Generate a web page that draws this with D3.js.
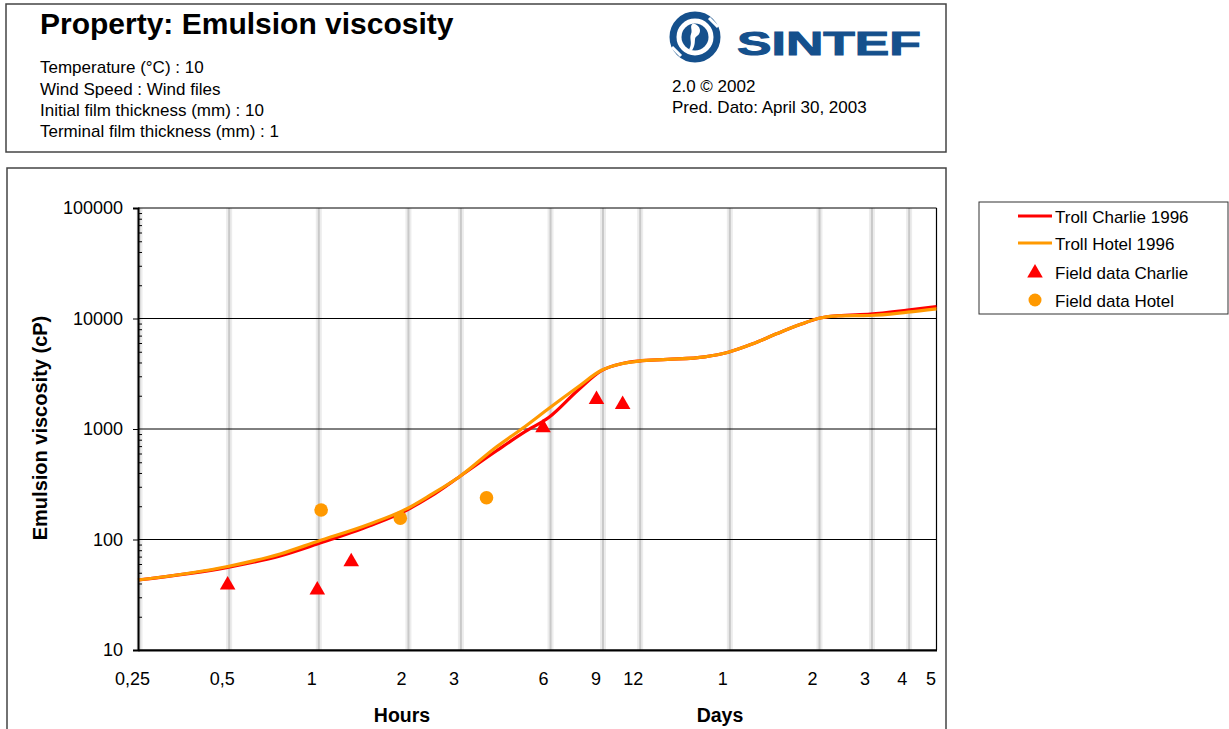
<!DOCTYPE html>
<meta charset="utf-8">
<script src="https://d3js.org/d3.v7.min.js"></script>
<style>
  body { margin: 0; background: #fff; }
  svg text { font-family: "Liberation Sans", Arial, sans-serif; fill: #000; }
</style>
<body>
<div id="chart"></div>
<script>
// model curves (time in hours, viscosity in cP)
var hours   = [0.25, 0.5, 0.75, 1, 1.5, 2, 2.4, 3, 4, 5, 6, 7.5, 9, 10.5, 12, 15, 20, 24, 29, 35, 42, 48, 56, 72, 96, 120];
var charlie = [43, 56, 71, 91, 133, 185, 245, 370, 635, 950, 1276, 2240, 3380, 3900, 4120, 4260, 4500, 4950, 5900, 7300, 8850, 10000, 10600, 10950, 11900, 12800];
var hotel   = [43, 57, 74, 96, 138, 190, 253, 370, 690, 1060, 1540, 2400, 3400, 3900, 4120, 4260, 4500, 4950, 5900, 7300, 8850, 10000, 10550, 10650, 11400, 12200];

// field observations
var charlieFieldHours = [0.5, 1.0, 1.3, 5.73, 8.66, 10.6];
var charlieFieldVals  = [40, 36, 65, 1060, 1910, 1720];
var hotelFieldHours   = [1.03, 1.9, 3.7];
var hotelFieldVals    = [185, 156, 239];

// axis ticks
var xTickVals   = [0.25, 0.5, 1, 2, 3, 6, 9, 12, 24, 48, 72, 96, 120];
var xTickLabels = ["0,25", "0,5", "1", "2", "3", "6", "9", "12", "1", "2", "3", "4", "5"];
var xGridVals   = [0.25, 0.5, 1, 2, 3, 6, 9, 12, 24, 48, 72, 96];
var yTickVals   = [10, 100, 1000, 10000, 100000];

var headerLines = ["Temperature (°C) : 10", "Wind Speed : Wind files",
                   "Initial film thickness (mm) : 10", "Terminal film thickness (mm) : 1"];
var seriesNames = ["Troll Charlie 1996", "Troll Hotel 1996", "Field data Charlie", "Field data Hotel"];

var RED = "#ff0000", ORANGE = "#ff9900", BLUE = "#15508c";

var svg = d3.select("#chart").append("svg")
    .attr("width", 1229).attr("height", 729);

// ---- header box ----
svg.append("rect").attr("x", 6).attr("y", 4).attr("width", 940).attr("height", 148)
    .attr("fill", "none").attr("stroke", "#444").attr("stroke-width", 1.5);
svg.append("text").attr("x", 40).attr("y", 34)
    .style("font-size", "30px").style("font-weight", "bold")
    .text("Property: Emulsion viscosity");
svg.selectAll(".hdr").data(headerLines).enter().append("text")
    .attr("x", 40).attr("y", function(d, i) { return [73, 95, 116, 137][i]; })
    .style("font-size", "17px").text(function(d) { return d; });

// SINTEF logo
var logo = svg.append("g").attr("transform", "translate(695,37)");
logo.append("circle").attr("r", 22).attr("fill", "none").attr("stroke", BLUE).attr("stroke-width", 7);
logo.append("circle").attr("r", 13.5).attr("fill", BLUE);
logo.append("path")
    .attr("d", "M-2,-13.5 C6,-12 7,-4 2,-1 C-2,1 2,6 -3,13.5 L-6,12.5 C-2,6 -6,2 -4,-3 C-2,-7 -6,-11 -2,-13.5 Z")
    .attr("fill", "#fff");
logo.append("path").attr("d", "M14,-19 L23,-10").attr("stroke", "#fff").attr("stroke-width", 3);
logo.append("path").attr("d", "M-14,19 L-23,10").attr("stroke", "#fff").attr("stroke-width", 3);
svg.append("text").attr("x", 737).attr("y", 55)
    .attr("textLength", 184).attr("lengthAdjust", "spacingAndGlyphs")
    .style("font-size", "34px").style("font-weight", "bold").style("fill", BLUE)
    .style("stroke", BLUE).style("stroke-width", 1)
    .text("SINTEF");
svg.append("text").attr("x", 672).attr("y", 92).style("font-size", "17px").text("2.0 © 2002");
svg.append("text").attr("x", 672).attr("y", 113).style("font-size", "17px").text("Pred. Dato: April 30, 2003");

// ---- chart box ----
svg.append("rect").attr("x", 7).attr("y", 168).attr("width", 939).attr("height", 580)
    .attr("fill", "none").attr("stroke", "#444").attr("stroke-width", 1.5);

var x = d3.scaleLog().domain([0.25, 120]).range([138, 936.5]);
var y = d3.scaleLog().domain([10, 100000]).range([650, 208]);

// vertical grid
var grid = svg.append("g");
grid.selectAll(".vg1").data(xGridVals).enter().append("line")
    .attr("x1", function(d) { return x(d) + 1.5; }).attr("x2", function(d) { return x(d) + 1.5; })
    .attr("y1", 208).attr("y2", 650).attr("stroke", "#ececec").attr("stroke-width", 6);
grid.selectAll(".vg2").data(xGridVals).enter().append("line")
    .attr("x1", function(d) { return x(d) + 1.5; }).attr("x2", function(d) { return x(d) + 1.5; })
    .attr("y1", 208).attr("y2", 650).attr("stroke", "#c9c9c9").attr("stroke-width", 2);

// horizontal grid
grid.selectAll(".hg").data(yTickVals).enter().append("line")
    .attr("x1", 138).attr("x2", 936.5)
    .attr("y1", function(d) { return y(d); }).attr("y2", function(d) { return y(d); })
    .attr("stroke", "#000").attr("stroke-width", 1);

// right border
svg.append("line").attr("x1", 936.5).attr("x2", 936.5).attr("y1", 208).attr("y2", 650)
    .attr("stroke", "#000").attr("stroke-width", 1.2);

// lines
var line = d3.line().curve(d3.curveMonotoneX)
    .x(function(d) { return x(d[0]); }).y(function(d) { return y(d[1]); });
svg.append("path").datum(d3.zip(hours, charlie)).attr("d", line)
    .attr("fill", "none").attr("stroke", RED).attr("stroke-width", 3.2);
svg.append("path").datum(d3.zip(hours, hotel)).attr("d", line)
    .attr("fill", "none").attr("stroke", ORANGE).attr("stroke-width", 3.2);

// markers
var tri = d3.symbol().type(d3.symbolTriangle).size(105);
svg.selectAll(".tri").data(d3.zip(charlieFieldHours, charlieFieldVals)).enter().append("path")
    .attr("d", tri)
    .attr("transform", function(d) { return "translate(" + x(d[0]) + "," + (y(d[1]) + 1.5) + ")"; })
    .attr("fill", RED);
svg.selectAll(".dot").data(d3.zip(hotelFieldHours, hotelFieldVals)).enter().append("circle")
    .attr("cx", function(d) { return x(d[0]); }).attr("cy", function(d) { return y(d[1]); })
    .attr("r", 6.8).attr("fill", ORANGE);

// y axis
var yAxis = svg.append("g").attr("transform", "translate(138,0)")
    .call(d3.axisLeft(y).tickValues(yTickVals).tickFormat(d3.format("d")).tickSize(5).tickPadding(10));
var minor = [];
yTickVals.slice(0, -1).forEach(function(v) { for (var k = 2; k < 10; k++) minor.push(v * k); });
svg.append("g").attr("transform", "translate(138,0)")
    .call(d3.axisRight(y).tickValues(minor).tickFormat("").tickSize(4))
    .select(".domain").remove();
yAxis.select(".domain").attr("stroke-width", 2);
yAxis.selectAll("text").style("font-size", "18px").attr("fill", "#000");

// x axis
var xAxis = svg.append("g").attr("transform", "translate(0,650)")
    .call(d3.axisBottom(x).tickValues(xTickVals).tickSize(0).tickPadding(22)
        .tickFormat(function(d, i) { return xTickLabels[i]; }));
xAxis.select(".domain").attr("stroke-width", 2);
xAxis.selectAll("text").style("font-size", "18px").attr("fill", "#000").attr("dx", "-6");

// axis titles
svg.append("text").attr("transform", "translate(47,428) rotate(-90)")
    .attr("text-anchor", "middle").style("font-size", "20px").style("font-weight", "bold")
    .text("Emulsion viscosity (cP)");
svg.append("text").attr("x", 402).attr("y", 722).attr("text-anchor", "middle")
    .style("font-size", "19.5px").style("font-weight", "bold").text("Hours");
svg.append("text").attr("x", 720).attr("y", 722).attr("text-anchor", "middle")
    .style("font-size", "19.5px").style("font-weight", "bold").text("Days");

// ---- legend ----
var lg = svg.append("g");
lg.append("rect").attr("x", 979).attr("y", 202).attr("width", 249).attr("height", 112)
    .attr("fill", "#fff").attr("stroke", "#333").attr("stroke-width", 1);
var rows = [216, 243, 272, 300];
lg.append("line").attr("x1", 1018).attr("x2", 1052).attr("y1", rows[0]).attr("y2", rows[0])
    .attr("stroke", RED).attr("stroke-width", 3.2);
lg.append("line").attr("x1", 1018).attr("x2", 1052).attr("y1", rows[1]).attr("y2", rows[1])
    .attr("stroke", ORANGE).attr("stroke-width", 3.2);
lg.append("path").attr("d", tri).attr("transform", "translate(1035," + (rows[2] + 1) + ")").attr("fill", RED);
lg.append("circle").attr("cx", 1035).attr("cy", rows[3]).attr("r", 6.5).attr("fill", ORANGE);
lg.selectAll(".lt").data(seriesNames).enter().append("text")
    .attr("x", 1055).attr("y", function(d, i) { return rows[i] + 6.5; })
    .style("font-size", "17px").text(function(d) { return d; });
</script>
</body>
